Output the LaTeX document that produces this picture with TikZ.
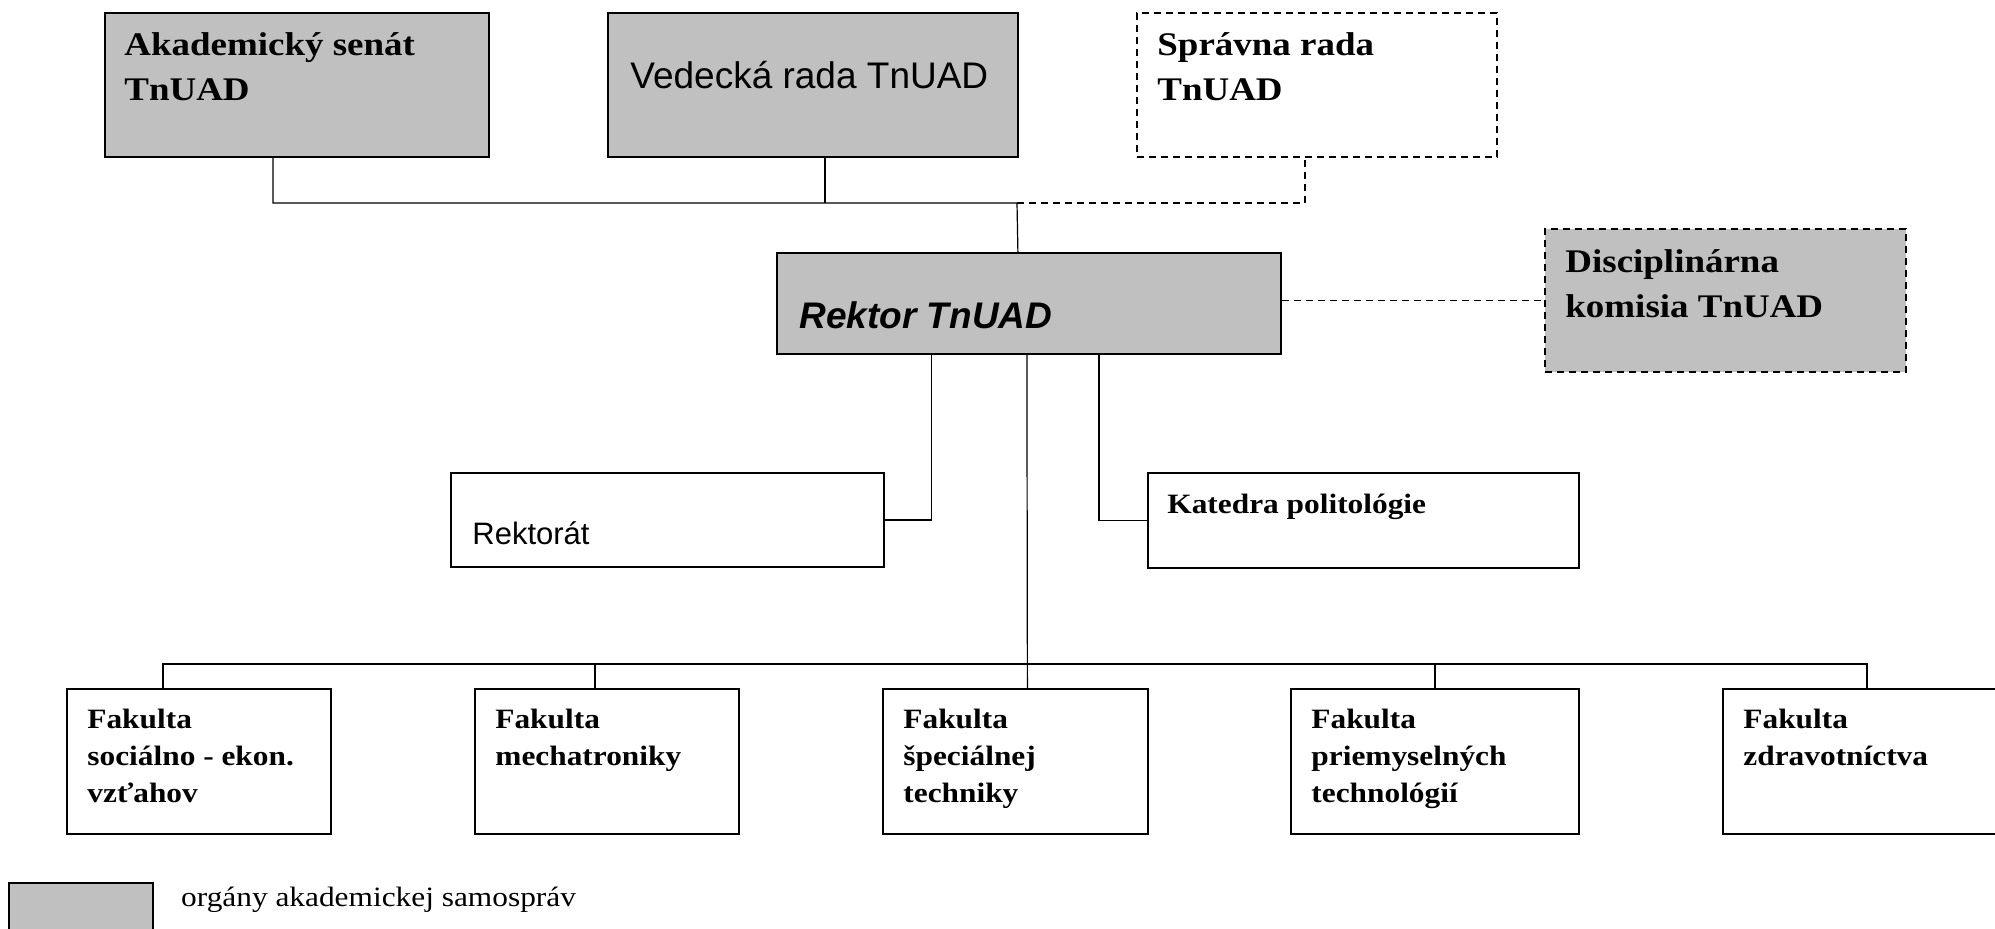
\documentclass[tikz,border=0pt]{standalone}
\usepackage{fontspec}
\setmainfont{Liberation Serif}[FakeStretch=1.12]
\setsansfont{Liberation Sans}
\usetikzlibrary{positioning}
\definecolor{boxgray}{RGB}{192,192,192}

\begin{document}
\begin{tikzpicture}[x=0.5pt,y=-0.5pt,
  orgbox/.style={draw,line width=0.9pt,anchor=north west,inner sep=0pt},
  selfgov/.style={orgbox,fill=boxgray},
  unitbox/.style={orgbox,fill=white},
  dashbox/.style={dash pattern=on 3.5pt off 2.5pt},
  boxtext/.style={anchor=base west,align=left,inner sep=0pt},
  bigserif/.style={boxtext,font=\bfseries\fontsize{16.5}{22.5}\selectfont},
  smallserif/.style={boxtext,font=\bfseries\fontsize{14}{18.5}\selectfont},
  link/.style={line width=0.6pt},
  dashlink/.style={line width=0.6pt,dash pattern=on 3.5pt off 2.5pt}
]
\clip (0,0) rectangle (1995,928);

% top row (base anchor of a multi-line text = its last line)
\node[selfgov,minimum width=192pt,minimum height=72pt] (akad) at (104,12) {};
\node[bigserif] (akad-text) at ([shift={(10pt,-44pt)}]akad.north west) {Akademický senát\\TnUAD};
\node[selfgov,minimum width=205pt,minimum height=72pt] (vedecka) at (607,12) {};
\node[boxtext,font=\sffamily\fontsize{18.5}{22}\selectfont] (vedecka-text) at ([shift={(11.5pt,-38pt)}]vedecka.north west) {Vedecká rada TnUAD};
\node[unitbox,dashbox,minimum width=180pt,minimum height=72pt] (spravna) at (1136,12) {};
\node[bigserif] (spravna-text) at ([shift={(10.5pt,-44pt)}]spravna.north west) {Správna rada\\TnUAD};

% rector
\node[selfgov,minimum width=252pt,minimum height=50.5pt] (rektor) at (776,252) {};
\node[boxtext,font=\sffamily\bfseries\itshape\fontsize{18.5}{22}\selectfont] (rektor-text) at ([shift={(11.5pt,-38pt)}]rektor.north west) {Rektor TnUAD};
\node[selfgov,dashbox,minimum width=180.5pt,minimum height=71.5pt] (disc) at (1544,228) {};
\node[bigserif] (disc-text) at ([shift={(10.5pt,-44.5pt)}]disc.north west) {Disciplinárna\\komisia TnUAD};

% middle row
\node[unitbox,minimum width=216.5pt,minimum height=47pt] (rektorat) at (450,472) {};
\node[boxtext,font=\sffamily\fontsize{15.5}{19}\selectfont] (rektorat-text) at ([shift={(11pt,-36pt)}]rektorat.north west) {Rektorát};
\node[unitbox,minimum width=215.5pt,minimum height=47.5pt] (katedra) at (1147,472) {};
\node[smallserif] (katedra-text) at ([shift={(10pt,-20.5pt)}]katedra.north west) {Katedra politológie};

% faculties
\foreach \n/\x/\w/\dy/\t in {f1/66/132/-57/{Fakulta\\sociálno - ekon.\\vzťahov},
    f2/474/132/-38.5/{Fakulta\\mechatroniky},
    f3/882/132.5/-57/{Fakulta\\špeciálnej\\techniky},
    f4/1290/144/-57/{Fakulta\\priemyselných\\technológií},
    f5/1722/144/-38.5/{Fakulta\\zdravotníctva}}{
  \node[unitbox,minimum width=\w pt,minimum height=72.5pt] (\n) at (\x,688) {};
  \node[smallserif] (\n-text) at ([shift={(10.5pt,\dy pt)}]\n.north west) {\t};
}

% legend
\node[selfgov,minimum width=72pt,minimum height=30pt] (legbox) at (8,882) {};
\node[boxtext,font=\mdseries\fontsize{14}{17}\selectfont] (legtext) at ([shift={(13.5pt,-12pt)}]legbox.north east) {orgány akademickej samospráv};

% connectors
\coordinate (topbus) at (1017,203);
\coordinate (botbus) at (1026,664);
\draw[link] ([xshift=-12pt]akad.south) |- (topbus) -- ([xshift=-5.5pt]rektor.north);
\draw[link] ([xshift=6pt]vedecka.south) -- ([xshift=6pt]vedecka.south |- topbus);
\draw[dashlink] (topbus) -| ([xshift=-6pt]spravna.south);
\draw[dashlink] (disc.west -| rektor.east) -- (disc.west);
\draw[link] ([xshift=-48.75pt]rektor.south) |- (rektorat.east);
\draw[link] ([xshift=35pt]rektor.south) |- (katedra.west);
\draw[link] ([xshift=-1pt]rektor.south) -- ([xshift=6pt]f3.north);
\draw[link] ([xshift=-18pt]f1.north) |- (f5.north |- botbus) -- (f5.north);
\foreach \n/\dx in {f2/-6pt,f4/0pt}
  \draw[link] ([xshift=\dx]\n.north) -- ([xshift=\dx]\n.north |- botbus);
\end{tikzpicture}
\end{document}
